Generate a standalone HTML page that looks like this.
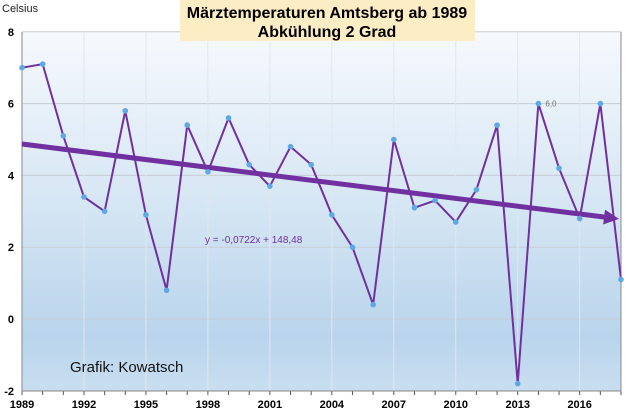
<!DOCTYPE html>
<html><head><meta charset="utf-8"><style>
body{margin:0;background:#fff;}
svg{display:block;font-family:"Liberation Sans",sans-serif;}
</style></head><body>
<svg id="c" width="640" height="414">
<defs>
<linearGradient id="bg" x1="0" y1="0" x2="0" y2="1">
<stop offset="0" stop-color="#f6f9fd"/><stop offset="0.5" stop-color="#d4e5f3"/><stop offset="0.85" stop-color="#b9d4ec"/><stop offset="1" stop-color="#c9def0"/>
</linearGradient>
<marker id="arr" markerWidth="3" markerHeight="3" refX="1" refY="1.5" orient="auto" markerUnits="strokeWidth"><path d="M0,0 L3,1.5 L0,3 z" fill="#7030a0"/></marker>
</defs>
<rect x="22" y="32" width="599" height="359" fill="url(#bg)"/>
<g id="grid"></g>
<g id="axes"></g>
<g id="marks"></g>
<rect x="180" y="0" width="295" height="41" fill="#fdedc4"/>
<text x="327" y="18" text-anchor="middle" font-size="16" font-weight="bold">Märztemperaturen Amtsberg ab 1989</text>
<text x="327" y="37" text-anchor="middle" font-size="16" font-weight="bold">Abkühlung 2 Grad</text>
<text x="2" y="12" font-size="11" fill="#222">Celsius</text>
<text x="70" y="372" font-size="15" fill="#111">Grafik: Kowatsch</text>
<text x="205" y="243" font-size="10" fill="#7030a0">y = -0,0722x + 148,48</text>
</svg>
<script>
const years=[1989,1990,1991,1992,1993,1994,1995,1996,1997,1998,1999,2000,2001,2002,2003,2004,2005,2006,2007,2008,2009,2010,2011,2012,2013,2014,2015,2016,2017,2018];
const temps=[7.0,7.1,5.1,3.4,3.0,5.8,2.9,0.8,5.4,4.1,5.6,4.3,3.7,4.8,4.3,2.9,2.0,0.4,5.0,3.1,3.3,2.7,3.6,5.4,-1.8,6.0,4.2,2.8,6.0,1.1];
const yTicks=[-2,0,2,4,6,8];
const xTicks=[1989,1992,1995,1998,2001,2004,2007,2010,2013,2016];
const slope=-0.0722, intercept=148.48;
const NS="http://www.w3.org/2000/svg";
const X=y=>22+(y-1989)*(599/29);
const Y=v=>319-v*35.9;
function mk(t,a,p){const e=document.createElementNS(NS,t);for(const k in a)e.setAttribute(k,a[k]);p.appendChild(e);return e;}
const grid=document.getElementById('grid'),axes=document.getElementById('axes'),marks=document.getElementById('marks');
yTicks.forEach(v=>{
 const l=mk('line',{x1:22,x2:621,y1:Y(v),y2:Y(v),stroke:'#c8ccd4','stroke-width':1},grid);
 
 
 const t=mk('text',{x:14,y:Y(v)+4,'text-anchor':'end','font-size':11,'font-weight':'bold'},axes);
 t.textContent=v;
 
 
});
xTicks.forEach(y=>{
 const l=mk('line',{x1:X(y),x2:X(y),y1:32,y2:391,stroke:'#e2e6ec','stroke-width':1},grid);
 
 
 const t=mk('text',{x:X(y),y:408,'text-anchor':'middle','font-size':11,'font-weight':'bold'},axes);
 t.textContent=y;
 
 
});
years.forEach(y=>{const l=mk('line',{x1:X(y),x2:X(y),y1:391,y2:395,stroke:'#555'},axes);
 
 });
const ax=mk('path',{d:'M22,32 V391 H621 V32',fill:'none',stroke:'#888','stroke-width':1},axes);


const pl=mk('polyline',{points:years.map((y,i)=>X(y)+','+Y(temps[i])).join(' '),fill:'none',stroke:'#7030a0','stroke-width':2},marks);


const y0=years[0],y1=years[years.length-1];
const tr=mk('line',{x1:X(y0),y1:Y(slope*y0+intercept),x2:X(y1)-12,y2:Y(slope*(y1-0.6)+intercept),stroke:'#7030a0','stroke-width':5,'marker-end':'url(#arr)'},marks);


years.forEach((y,i)=>{const c=mk('circle',{cx:X(y),cy:Y(temps[i]),r:2.8,fill:'#5fa8e6'},marks);
 
 });
const i14=years.indexOf(2014);
const lb=mk('text',{x:X(2014)+7,y:Y(temps[i14])+3,'font-size':8,fill:'#777'},marks);
lb.textContent='6,0';


</script>
</body></html>
